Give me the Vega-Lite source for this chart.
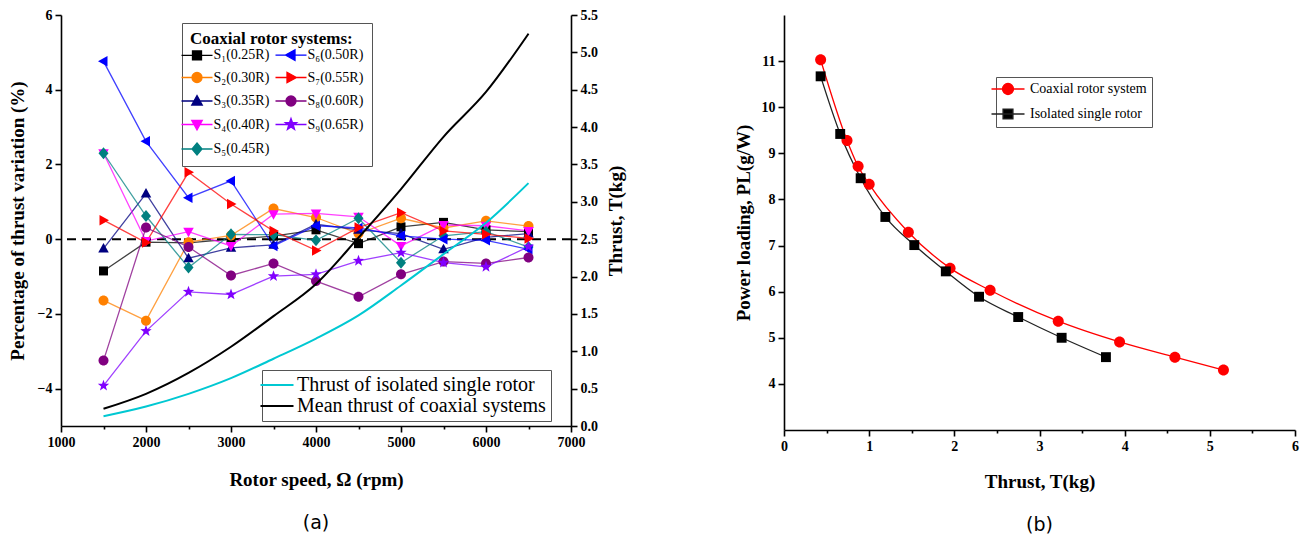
{
  "$schema": "https://vega.github.io/schema/vega-lite/v6.json",
  "background": "#ffffff",
  "padding": {"left": 8, "top": 8, "right": 5, "bottom": 5},
  "spacing": 108,
  "datasets": {
    "variation": [
      {"system": "S₁(0.25R)", "rpm": 1500, "pct": -0.85}, {"system": "S₁(0.25R)", "rpm": 2000, "pct": -0.08}, {"system": "S₁(0.25R)", "rpm": 2500, "pct": -0.10}, {"system": "S₁(0.25R)", "rpm": 3000, "pct": 0.00}, {"system": "S₁(0.25R)", "rpm": 3500, "pct": 0.08}, {"system": "S₁(0.25R)", "rpm": 4000, "pct": 0.25}, {"system": "S₁(0.25R)", "rpm": 4500, "pct": -0.12}, {"system": "S₁(0.25R)", "rpm": 5000, "pct": 0.33}, {"system": "S₁(0.25R)", "rpm": 5500, "pct": 0.45}, {"system": "S₁(0.25R)", "rpm": 6000, "pct": 0.25}, {"system": "S₁(0.25R)", "rpm": 6500, "pct": 0.20},
      {"system": "S₂(0.30R)", "rpm": 1500, "pct": -1.64}, {"system": "S₂(0.30R)", "rpm": 2000, "pct": -2.18}, {"system": "S₂(0.30R)", "rpm": 2500, "pct": -0.08}, {"system": "S₂(0.30R)", "rpm": 3000, "pct": 0.10}, {"system": "S₂(0.30R)", "rpm": 3500, "pct": 0.82}, {"system": "S₂(0.30R)", "rpm": 4000, "pct": 0.58}, {"system": "S₂(0.30R)", "rpm": 4500, "pct": 0.15}, {"system": "S₂(0.30R)", "rpm": 5000, "pct": 0.56}, {"system": "S₂(0.30R)", "rpm": 5500, "pct": 0.30}, {"system": "S₂(0.30R)", "rpm": 6000, "pct": 0.49}, {"system": "S₂(0.30R)", "rpm": 6500, "pct": 0.35},
      {"system": "S₃(0.35R)", "rpm": 1500, "pct": -0.25}, {"system": "S₃(0.35R)", "rpm": 2000, "pct": 1.22}, {"system": "S₃(0.35R)", "rpm": 2500, "pct": -0.51}, {"system": "S₃(0.35R)", "rpm": 3000, "pct": -0.23}, {"system": "S₃(0.35R)", "rpm": 3500, "pct": -0.15}, {"system": "S₃(0.35R)", "rpm": 4000, "pct": 0.40}, {"system": "S₃(0.35R)", "rpm": 4500, "pct": 0.25}, {"system": "S₃(0.35R)", "rpm": 5000, "pct": 0.15}, {"system": "S₃(0.35R)", "rpm": 5500, "pct": -0.27}, {"system": "S₃(0.35R)", "rpm": 6000, "pct": 0.05}, {"system": "S₃(0.35R)", "rpm": 6500, "pct": 0.15},
      {"system": "S₄(0.40R)", "rpm": 1500, "pct": 2.30}, {"system": "S₄(0.40R)", "rpm": 2000, "pct": -0.05}, {"system": "S₄(0.40R)", "rpm": 2500, "pct": 0.20}, {"system": "S₄(0.40R)", "rpm": 3000, "pct": -0.18}, {"system": "S₄(0.40R)", "rpm": 3500, "pct": 0.67}, {"system": "S₄(0.40R)", "rpm": 4000, "pct": 0.69}, {"system": "S₄(0.40R)", "rpm": 4500, "pct": 0.60}, {"system": "S₄(0.40R)", "rpm": 5000, "pct": -0.18}, {"system": "S₄(0.40R)", "rpm": 5500, "pct": 0.38}, {"system": "S₄(0.40R)", "rpm": 6000, "pct": 0.36}, {"system": "S₄(0.40R)", "rpm": 6500, "pct": 0.22},
      {"system": "S₅(0.45R)", "rpm": 1500, "pct": 2.30}, {"system": "S₅(0.45R)", "rpm": 2000, "pct": 0.62}, {"system": "S₅(0.45R)", "rpm": 2500, "pct": -0.76}, {"system": "S₅(0.45R)", "rpm": 3000, "pct": 0.13}, {"system": "S₅(0.45R)", "rpm": 3500, "pct": 0.12}, {"system": "S₅(0.45R)", "rpm": 4000, "pct": -0.03}, {"system": "S₅(0.45R)", "rpm": 4500, "pct": 0.56}, {"system": "S₅(0.45R)", "rpm": 5000, "pct": -0.63}, {"system": "S₅(0.45R)", "rpm": 5500, "pct": 0.09}, {"system": "S₅(0.45R)", "rpm": 6000, "pct": 0.20}, {"system": "S₅(0.45R)", "rpm": 6500, "pct": -0.21},
      {"system": "S₆(0.50R)", "rpm": 1500, "pct": 4.76}, {"system": "S₆(0.50R)", "rpm": 2000, "pct": 2.62}, {"system": "S₆(0.50R)", "rpm": 2500, "pct": 1.11}, {"system": "S₆(0.50R)", "rpm": 3000, "pct": 1.56}, {"system": "S₆(0.50R)", "rpm": 3500, "pct": -0.18}, {"system": "S₆(0.50R)", "rpm": 4000, "pct": 0.36}, {"system": "S₆(0.50R)", "rpm": 4500, "pct": 0.30}, {"system": "S₆(0.50R)", "rpm": 5000, "pct": 0.09}, {"system": "S₆(0.50R)", "rpm": 5500, "pct": 0.00}, {"system": "S₆(0.50R)", "rpm": 6000, "pct": -0.03}, {"system": "S₆(0.50R)", "rpm": 6500, "pct": -0.27},
      {"system": "S₇(0.55R)", "rpm": 1500, "pct": 0.51}, {"system": "S₇(0.55R)", "rpm": 2000, "pct": -0.09}, {"system": "S₇(0.55R)", "rpm": 2500, "pct": 1.79}, {"system": "S₇(0.55R)", "rpm": 3000, "pct": 0.94}, {"system": "S₇(0.55R)", "rpm": 3500, "pct": 0.22}, {"system": "S₇(0.55R)", "rpm": 4000, "pct": -0.30}, {"system": "S₇(0.55R)", "rpm": 4500, "pct": 0.31}, {"system": "S₇(0.55R)", "rpm": 5000, "pct": 0.71}, {"system": "S₇(0.55R)", "rpm": 5500, "pct": 0.22}, {"system": "S₇(0.55R)", "rpm": 6000, "pct": 0.13}, {"system": "S₇(0.55R)", "rpm": 6500, "pct": 0.02},
      {"system": "S₈(0.60R)", "rpm": 1500, "pct": -3.25}, {"system": "S₈(0.60R)", "rpm": 2000, "pct": 0.31}, {"system": "S₈(0.60R)", "rpm": 2500, "pct": -0.21}, {"system": "S₈(0.60R)", "rpm": 3000, "pct": -0.97}, {"system": "S₈(0.60R)", "rpm": 3500, "pct": -0.65}, {"system": "S₈(0.60R)", "rpm": 4000, "pct": -1.12}, {"system": "S₈(0.60R)", "rpm": 4500, "pct": -1.54}, {"system": "S₈(0.60R)", "rpm": 5000, "pct": -0.94}, {"system": "S₈(0.60R)", "rpm": 5500, "pct": -0.60}, {"system": "S₈(0.60R)", "rpm": 6000, "pct": -0.65}, {"system": "S₈(0.60R)", "rpm": 6500, "pct": -0.49},
      {"system": "S₉(0.65R)", "rpm": 1500, "pct": -3.92}, {"system": "S₉(0.65R)", "rpm": 2000, "pct": -2.46}, {"system": "S₉(0.65R)", "rpm": 2500, "pct": -1.41}, {"system": "S₉(0.65R)", "rpm": 3000, "pct": -1.48}, {"system": "S₉(0.65R)", "rpm": 3500, "pct": -0.99}, {"system": "S₉(0.65R)", "rpm": 4000, "pct": -0.94}, {"system": "S₉(0.65R)", "rpm": 4500, "pct": -0.58}, {"system": "S₉(0.65R)", "rpm": 5000, "pct": -0.36}, {"system": "S₉(0.65R)", "rpm": 5500, "pct": -0.63}, {"system": "S₉(0.65R)", "rpm": 6000, "pct": -0.74}, {"system": "S₉(0.65R)", "rpm": 6500, "pct": -0.20}
    ],
    "thrust": [
      {"curve": "Thrust of isolated single rotor", "rpm": 1500, "thrust": 0.13}, {"curve": "Thrust of isolated single rotor", "rpm": 2000, "thrust": 0.26}, {"curve": "Thrust of isolated single rotor", "rpm": 2500, "thrust": 0.43}, {"curve": "Thrust of isolated single rotor", "rpm": 3000, "thrust": 0.64}, {"curve": "Thrust of isolated single rotor", "rpm": 3500, "thrust": 0.90}, {"curve": "Thrust of isolated single rotor", "rpm": 4000, "thrust": 1.17}, {"curve": "Thrust of isolated single rotor", "rpm": 4500, "thrust": 1.48}, {"curve": "Thrust of isolated single rotor", "rpm": 5000, "thrust": 1.88}, {"curve": "Thrust of isolated single rotor", "rpm": 5500, "thrust": 2.30}, {"curve": "Thrust of isolated single rotor", "rpm": 6000, "thrust": 2.72}, {"curve": "Thrust of isolated single rotor", "rpm": 6500, "thrust": 3.25},
      {"curve": "Mean thrust of coaxial systems", "rpm": 1500, "thrust": 0.23}, {"curve": "Mean thrust of coaxial systems", "rpm": 2000, "thrust": 0.43}, {"curve": "Mean thrust of coaxial systems", "rpm": 2500, "thrust": 0.71}, {"curve": "Mean thrust of coaxial systems", "rpm": 3000, "thrust": 1.06}, {"curve": "Mean thrust of coaxial systems", "rpm": 3500, "thrust": 1.47}, {"curve": "Mean thrust of coaxial systems", "rpm": 4000, "thrust": 1.90}, {"curve": "Mean thrust of coaxial systems", "rpm": 4500, "thrust": 2.52}, {"curve": "Mean thrust of coaxial systems", "rpm": 5000, "thrust": 3.17}, {"curve": "Mean thrust of coaxial systems", "rpm": 5500, "thrust": 3.87}, {"curve": "Mean thrust of coaxial systems", "rpm": 6000, "thrust": 4.47}, {"curve": "Mean thrust of coaxial systems", "rpm": 6500, "thrust": 5.25}
    ],
    "loading": [
      {"series": "Coaxial rotor system", "T": 0.43, "PL": 11.03}, {"series": "Coaxial rotor system", "T": 0.74, "PL": 9.28}, {"series": "Coaxial rotor system", "T": 0.87, "PL": 8.72}, {"series": "Coaxial rotor system", "T": 1.00, "PL": 8.33}, {"series": "Coaxial rotor system", "T": 1.46, "PL": 7.29}, {"series": "Coaxial rotor system", "T": 1.95, "PL": 6.51}, {"series": "Coaxial rotor system", "T": 2.42, "PL": 6.03}, {"series": "Coaxial rotor system", "T": 3.22, "PL": 5.36}, {"series": "Coaxial rotor system", "T": 3.94, "PL": 4.91}, {"series": "Coaxial rotor system", "T": 4.59, "PL": 4.58}, {"series": "Coaxial rotor system", "T": 5.16, "PL": 4.30},
      {"series": "Isolated single rotor", "T": 0.43, "PL": 10.67}, {"series": "Isolated single rotor", "T": 0.66, "PL": 9.42}, {"series": "Isolated single rotor", "T": 0.90, "PL": 8.46}, {"series": "Isolated single rotor", "T": 1.19, "PL": 7.62}, {"series": "Isolated single rotor", "T": 1.53, "PL": 7.01}, {"series": "Isolated single rotor", "T": 1.90, "PL": 6.44}, {"series": "Isolated single rotor", "T": 2.29, "PL": 5.89}, {"series": "Isolated single rotor", "T": 2.75, "PL": 5.45}, {"series": "Isolated single rotor", "T": 3.26, "PL": 5.00}, {"series": "Isolated single rotor", "T": 3.78, "PL": 4.58}
    ]
  },
  "hconcat": [
    {
      "width": 510,
      "height": 411,
      "title": {"text": "(a)", "orient": "bottom", "frame": "group", "offset": 25},
      "layer": [
        {
          "layer": [
            {
              "data": {"values": [{}]},
              "mark": {"type": "rule", "strokeDash": [9, 6], "strokeWidth": 2, "color": "#000000"},
              "encoding": {"y": {"datum": 0, "type": "quantitative"}}
            },
            {
              "data": {"name": "variation"},
              "mark": {"type": "line", "strokeWidth": 1.3, "opacity": 0.75},
              "encoding": {
                "x": {"field": "rpm", "type": "quantitative", "scale": {"domain": [1000, 7000]},
                  "axis": {"title": "Rotor speed, Ω (rpm)", "values": [1000, 1500, 2000, 2500, 3000, 3500, 4000, 4500, 5000, 5500, 6000, 6500, 7000], "format": "d", "labelExpr": "datum.value % 1000 ? '' : datum.label", "tickSize": {"condition": {"test": "datum.value % 1000 !== 0", "value": 3}, "value": 6}, "titlePadding": 21}},
                "y": {"field": "pct", "type": "quantitative", "scale": {"domain": [-5, 6]},
                  "axis": {"title": "Percentage of thrust variation (%)", "values": [-4, -2, 0, 2, 4, 6], "format": "d", "tickSize": 6, "titlePadding": 10}},
                "stroke": {"field": "system", "type": "nominal",
                  "scale": {"domain": ["S₁(0.25R)", "S₂(0.30R)", "S₃(0.35R)", "S₄(0.40R)", "S₅(0.45R)", "S₆(0.50R)", "S₇(0.55R)", "S₈(0.60R)", "S₉(0.65R)"], "range": ["#000000", "#FF8000", "#000080", "#FF00FF", "#008080", "#0000FF", "#FF0000", "#800080", "#8000FF"]},
                  "legend": {"title": "Coaxial rotor systems:", "orient": "none", "legendX": 121, "legendY": 8, "columns": 2, "columnPadding": 2, "rowPadding": 6.5, "padding": 8, "titleFontSize": 17, "titleFontWeight": "bold", "titlePadding": 0, "labelFontSize": 14, "symbolSize": 100, "symbolStrokeWidth": 1.3, "symbolOffset": 0, "labelOffset": 9.5, "symbolOpacity": 1}}
              }
            },
            {
              "data": {"values": []},
              "mark": {"type": "point", "filled": true},
              "encoding": {
                "shape": {"field": "system", "type": "nominal",
                  "scale": {"domain": ["S₁(0.25R)", "S₂(0.30R)", "S₃(0.35R)", "S₄(0.40R)", "S₅(0.45R)", "S₆(0.50R)", "S₇(0.55R)", "S₈(0.60R)", "S₉(0.65R)"], "range": ["M-3.1,0H3.1M-0.9,-0.9H0.9V0.9H-0.9Z", "M-3.1,0H3.1M-1,0A1,1,0,1,0,1,0A1,1,0,1,0,-1,0Z", "M-3.1,0H3.1M0,-1.1L1.05,0.8L-1.05,0.8Z", "M-3.1,0H3.1M0,1.1L1.05,-0.8L-1.05,-0.8Z", "M-3.1,0H3.1M0,-1.2L1,0L0,1.2L-1,0Z", "M-3.1,0H3.1M-1.1,0L0.8,-1.05L0.8,1.05Z", "M-3.1,0H3.1M1.1,0L-0.8,-1.05L-0.8,1.05Z", "M-3.1,0H3.1M-1,0A1,1,0,1,0,1,0A1,1,0,1,0,-1,0Z", "M-3.1,0H3.1M0,-1.2L0.29,-0.4L1.14,-0.37L0.47,0.15L0.71,0.97L0,0.49L-0.71,0.97L-0.47,0.15L-1.14,-0.37L-0.29,-0.4Z"]},
                  "legend": {"title": "Coaxial rotor systems:", "orient": "none", "legendX": 121, "legendY": 8, "columns": 2, "columnPadding": 2, "rowPadding": 6.5, "padding": 8, "titleFontSize": 17, "titleFontWeight": "bold", "titlePadding": 0, "labelFontSize": 14, "symbolSize": 100, "symbolStrokeWidth": 1.3, "symbolOffset": 0, "labelOffset": 9.5, "symbolOpacity": 1}}
              }
            },
            {
              "data": {"name": "variation"},
              "transform": [{"filter": {"field": "system", "equal": "S₁(0.25R)"}}],
              "mark": {"type": "point", "filled": true, "size": 100, "opacity": 1, "shape": "M-0.9,-0.9H0.9V0.9H-0.9Z"},
              "encoding": {
                "x": {"field": "rpm", "type": "quantitative"},
                "y": {"field": "pct", "type": "quantitative"},
                "fill": {"field": "system", "type": "nominal",
                  "scale": {"domain": ["S₁(0.25R)", "S₂(0.30R)", "S₃(0.35R)", "S₄(0.40R)", "S₅(0.45R)", "S₆(0.50R)", "S₇(0.55R)", "S₈(0.60R)", "S₉(0.65R)"], "range": ["#000000", "#FF8000", "#000080", "#FF00FF", "#008080", "#0000FF", "#FF0000", "#800080", "#8000FF"]},
                  "legend": {"title": "Coaxial rotor systems:", "orient": "none", "legendX": 121, "legendY": 8, "columns": 2, "columnPadding": 2, "rowPadding": 6.5, "padding": 8, "titleFontSize": 17, "titleFontWeight": "bold", "titlePadding": 0, "labelFontSize": 14, "symbolSize": 100, "symbolStrokeWidth": 1.3, "symbolOffset": 0, "labelOffset": 9.5, "symbolOpacity": 1}}
              }
            },
            {
              "data": {"name": "variation"},
              "transform": [{"filter": {"field": "system", "equal": "S₂(0.30R)"}}],
              "mark": {"type": "point", "filled": true, "size": 100, "opacity": 1, "shape": "M-1,0A1,1,0,1,0,1,0A1,1,0,1,0,-1,0Z"},
              "encoding": {"x": {"field": "rpm", "type": "quantitative"}, "y": {"field": "pct", "type": "quantitative"}, "fill": {"field": "system", "type": "nominal"}}
            },
            {
              "data": {"name": "variation"},
              "transform": [{"filter": {"field": "system", "equal": "S₃(0.35R)"}}],
              "mark": {"type": "point", "filled": true, "size": 100, "opacity": 1, "shape": "M0,-1.1L1.05,0.8L-1.05,0.8Z"},
              "encoding": {"x": {"field": "rpm", "type": "quantitative"}, "y": {"field": "pct", "type": "quantitative"}, "fill": {"field": "system", "type": "nominal"}}
            },
            {
              "data": {"name": "variation"},
              "transform": [{"filter": {"field": "system", "equal": "S₄(0.40R)"}}],
              "mark": {"type": "point", "filled": true, "size": 100, "opacity": 1, "shape": "M0,1.1L1.05,-0.8L-1.05,-0.8Z"},
              "encoding": {"x": {"field": "rpm", "type": "quantitative"}, "y": {"field": "pct", "type": "quantitative"}, "fill": {"field": "system", "type": "nominal"}}
            },
            {
              "data": {"name": "variation"},
              "transform": [{"filter": {"field": "system", "equal": "S₅(0.45R)"}}],
              "mark": {"type": "point", "filled": true, "size": 100, "opacity": 1, "shape": "M0,-1.2L1,0L0,1.2L-1,0Z"},
              "encoding": {"x": {"field": "rpm", "type": "quantitative"}, "y": {"field": "pct", "type": "quantitative"}, "fill": {"field": "system", "type": "nominal"}}
            },
            {
              "data": {"name": "variation"},
              "transform": [{"filter": {"field": "system", "equal": "S₆(0.50R)"}}],
              "mark": {"type": "point", "filled": true, "size": 100, "opacity": 1, "shape": "M-1.1,0L0.8,-1.05L0.8,1.05Z"},
              "encoding": {"x": {"field": "rpm", "type": "quantitative"}, "y": {"field": "pct", "type": "quantitative"}, "fill": {"field": "system", "type": "nominal"}}
            },
            {
              "data": {"name": "variation"},
              "transform": [{"filter": {"field": "system", "equal": "S₇(0.55R)"}}],
              "mark": {"type": "point", "filled": true, "size": 100, "opacity": 1, "shape": "M1.1,0L-0.8,-1.05L-0.8,1.05Z"},
              "encoding": {"x": {"field": "rpm", "type": "quantitative"}, "y": {"field": "pct", "type": "quantitative"}, "fill": {"field": "system", "type": "nominal"}}
            },
            {
              "data": {"name": "variation"},
              "transform": [{"filter": {"field": "system", "equal": "S₈(0.60R)"}}],
              "mark": {"type": "point", "filled": true, "size": 100, "opacity": 1, "shape": "M-1,0A1,1,0,1,0,1,0A1,1,0,1,0,-1,0Z"},
              "encoding": {"x": {"field": "rpm", "type": "quantitative"}, "y": {"field": "pct", "type": "quantitative"}, "fill": {"field": "system", "type": "nominal"}}
            },
            {
              "data": {"name": "variation"},
              "transform": [{"filter": {"field": "system", "equal": "S₉(0.65R)"}}],
              "mark": {"type": "point", "filled": true, "size": 100, "opacity": 1, "shape": "M0,-1.2L0.29,-0.4L1.14,-0.37L0.47,0.15L0.71,0.97L0,0.49L-0.71,0.97L-0.47,0.15L-1.14,-0.37L-0.29,-0.4Z"},
              "encoding": {"x": {"field": "rpm", "type": "quantitative"}, "y": {"field": "pct", "type": "quantitative"}, "fill": {"field": "system", "type": "nominal"}}
            }
          ]
        },
        {
          "data": {"name": "thrust"},
          "mark": {"type": "line", "strokeWidth": 2, "interpolate": "monotone"},
          "encoding": {
            "x": {"field": "rpm", "type": "quantitative"},
            "y": {"field": "thrust", "type": "quantitative", "scale": {"domain": [0, 5.5]},
              "axis": {"orient": "right", "title": "Thrust, T(kg)", "values": [0, 0.5, 1, 1.5, 2, 2.5, 3, 3.5, 4, 4.5, 5, 5.5], "format": ".1f", "tickSize": 6, "titleAngle": 270, "titleBaseline": "top", "titlePadding": 9}},
            "color": {"field": "curve", "type": "nominal",
              "scale": {"domain": ["Thrust of isolated single rotor", "Mean thrust of coaxial systems"], "range": ["#00C8D2", "#000000"]},
              "legend": {"title": null, "orient": "none", "legendX": 201, "legendY": 355, "padding": 5, "rowPadding": 1, "labelFontSize": 20, "labelLimit": 400, "symbolType": "M-3,0H3", "symbolSize": 121, "symbolStrokeWidth": 2, "symbolOffset": 0, "labelOffset": 10}}
          }
        }
      ],
      "resolve": {"scale": {"y": "independent"}}
    },
    {
      "width": 511,
      "height": 415,
      "title": {"text": "(b)", "orient": "bottom", "frame": "group", "offset": 25},
      "layer": [
        {
          "data": {"name": "loading"},
          "mark": {"type": "line", "strokeWidth": 1.3, "interpolate": "monotone"},
          "encoding": {
            "x": {"field": "T", "type": "quantitative", "scale": {"domain": [0, 6]},
              "axis": {"title": "Thrust, T(kg)", "values": [0, 0.5, 1, 1.5, 2, 2.5, 3, 3.5, 4, 4.5, 5, 5.5, 6], "format": ".0f", "labelExpr": "datum.value % 1 ? '' : datum.label", "tickSize": {"condition": {"test": "datum.value % 1 !== 0", "value": 3}, "value": 6}, "titlePadding": 19}},
            "y": {"field": "PL", "type": "quantitative", "scale": {"domain": [3.5, 11.5]},
              "axis": {"title": "Power loading, PL(g/W)", "values": [4, 5, 6, 7, 8, 9, 10, 11], "format": "d", "tickSize": 6, "titlePadding": 8}},
            "stroke": {"field": "series", "type": "nominal",
              "scale": {"domain": ["Coaxial rotor system", "Isolated single rotor"], "range": ["#FF0000", "#222222"]},
              "legend": {"title": null, "orient": "none", "legendX": 212, "legendY": 62, "padding": 5, "rowPadding": 8, "labelFontSize": 14, "symbolSize": 121, "symbolStrokeWidth": 1.3, "symbolOffset": 0, "labelOffset": 15, "symbolOpacity": 1}}
          }
        },
        {
          "data": {"values": []},
          "mark": {"type": "point", "filled": true},
          "encoding": {
            "shape": {"field": "series", "type": "nominal",
              "scale": {"domain": ["Coaxial rotor system", "Isolated single rotor"], "range": ["M-3,0H3M-1,0A1,1,0,1,0,1,0A1,1,0,1,0,-1,0Z", "M-3,0H3M-0.9,-0.9H0.9V0.9H-0.9Z"]},
              "legend": {"title": null, "orient": "none", "legendX": 212, "legendY": 62, "padding": 5, "rowPadding": 8, "labelFontSize": 14, "symbolSize": 121, "symbolStrokeWidth": 1.3, "symbolOffset": 0, "labelOffset": 15, "symbolOpacity": 1}}
          }
        },
        {
          "data": {"name": "loading"},
          "transform": [{"filter": {"field": "series", "equal": "Coaxial rotor system"}}],
          "mark": {"type": "point", "filled": true, "size": 121, "opacity": 1, "shape": "M-1,0A1,1,0,1,0,1,0A1,1,0,1,0,-1,0Z"},
          "encoding": {
            "x": {"field": "T", "type": "quantitative"},
            "y": {"field": "PL", "type": "quantitative"},
            "fill": {"field": "series", "type": "nominal",
              "scale": {"domain": ["Coaxial rotor system", "Isolated single rotor"], "range": ["#FF0000", "#000000"]},
              "legend": {"title": null, "orient": "none", "legendX": 212, "legendY": 62, "padding": 5, "rowPadding": 8, "labelFontSize": 14, "symbolSize": 121, "symbolStrokeWidth": 1.3, "symbolOffset": 0, "labelOffset": 15, "symbolOpacity": 1}}
          }
        },
        {
          "data": {"name": "loading"},
          "transform": [{"filter": {"field": "series", "equal": "Isolated single rotor"}}],
          "mark": {"type": "point", "filled": true, "size": 121, "opacity": 1, "shape": "M-0.9,-0.9H0.9V0.9H-0.9Z"},
          "encoding": {
            "x": {"field": "T", "type": "quantitative"},
            "y": {"field": "PL", "type": "quantitative"},
            "fill": {"field": "series", "type": "nominal"}
          }
        }
      ]
    }
  ],
  "resolve": {
    "scale": {"color": "independent", "shape": "independent", "stroke": "independent", "fill": "independent"},
    "legend": {"color": "independent", "shape": "independent", "stroke": "independent", "fill": "independent"}
  },
  "config": {
    "view": {"stroke": null},
    "font": "Liberation Serif",
    "axis": {"domainColor": "#000000", "domainWidth": 1.6, "tickColor": "#000000", "tickWidth": 1.6, "labelFont": "Liberation Serif", "labelFontSize": 14, "labelFontWeight": "bold", "labelColor": "#000000", "titleFont": "Liberation Serif", "titleFontSize": 19, "titleFontWeight": "bold", "titleColor": "#000000", "grid": false, "labelOverlap": false, "labelPadding": 3, "labelFlush": false},
    "legend": {"labelFont": "Liberation Serif", "labelColor": "#000000", "titleFont": "Liberation Serif", "titleColor": "#000000", "strokeColor": "#555555", "fillColor": "#ffffff"},
    "title": {"font": "DejaVu Sans", "fontSize": 19, "fontWeight": "normal", "color": "#000000"}
  }
}
